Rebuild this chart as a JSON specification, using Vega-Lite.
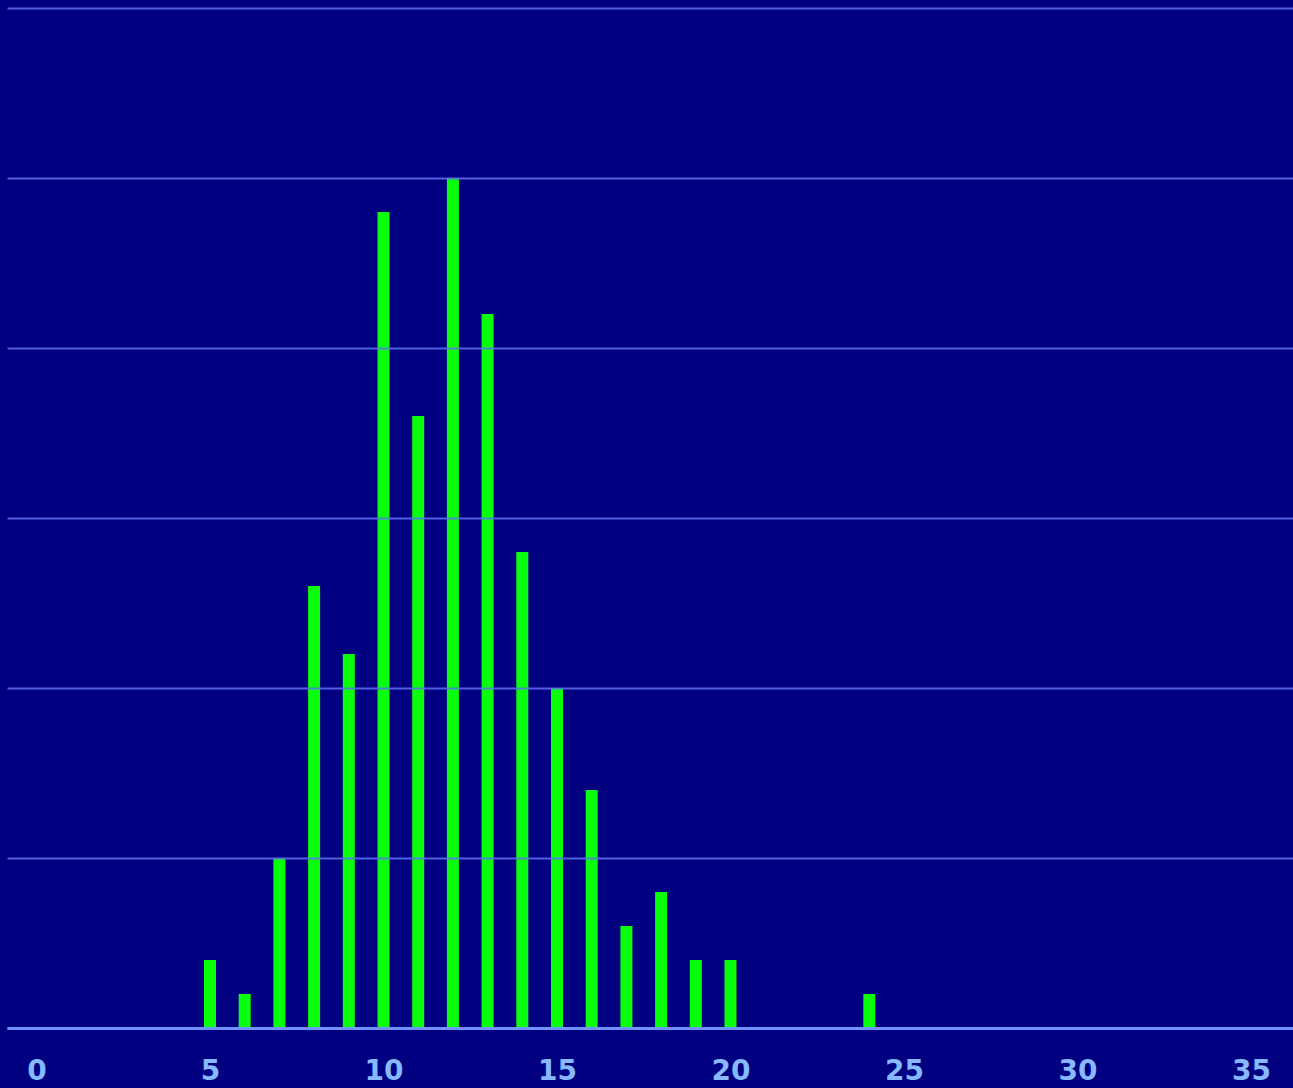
{
  "$schema": "https://vega.github.io/schema/vega-lite/v6.json",
  "autosize": {"type": "none"},
  "padding": {"left": 7, "top": 0, "right": 0, "bottom": 60},
  "width": 1286,
  "height": 1028,
  "background": "#000080",
  "config": {"view": {"stroke": null}},
  "data": {"values": [
    {"x": 5, "n": 2}, {"x": 6, "n": 1}, {"x": 7, "n": 5}, {"x": 8, "n": 13},
    {"x": 9, "n": 11}, {"x": 10, "n": 24}, {"x": 11, "n": 18}, {"x": 12, "n": 25},
    {"x": 13, "n": 21}, {"x": 14, "n": 14}, {"x": 15, "n": 10}, {"x": 16, "n": 7},
    {"x": 17, "n": 3}, {"x": 18, "n": 4}, {"x": 19, "n": 2}, {"x": 20, "n": 2},
    {"x": 24, "n": 1}
  ]},
  "mark": {"type": "bar", "size": 12, "color": "#0aff0a"},
  "encoding": {
    "x": {
      "field": "x", "type": "quantitative",
      "scale": {"domain": [-0.85, 36.21], "nice": false, "zero": false, "padding": 0},
      "axis": {
        "title": null, "values": [0, 5, 10, 15, 20, 25, 30, 35],
        "grid": false, "ticks": false, "zindex": 1,
        "domainColor": "#7093ff", "domainWidth": 3,
        "labelColor": "#88b8ff", "labelFont": "DejaVu Sans", "labelFontSize": 28,
        "labelFontWeight": "bold", "labelPadding": 29, "labelOverlap": false, "labelFlush": false
      }
    },
    "y": {
      "field": "n", "type": "quantitative",
      "scale": {"domain": [0, 30.235], "nice": false},
      "axis": {
        "title": null, "values": [0, 5, 10, 15, 20, 25, 30],
        "labels": false, "ticks": false, "domain": false, "zindex": 1,
        "grid": true, "gridColor": "#6070f5", "gridWidth": 1.8, "gridOpacity": 0.85
      }
    }
  }
}
